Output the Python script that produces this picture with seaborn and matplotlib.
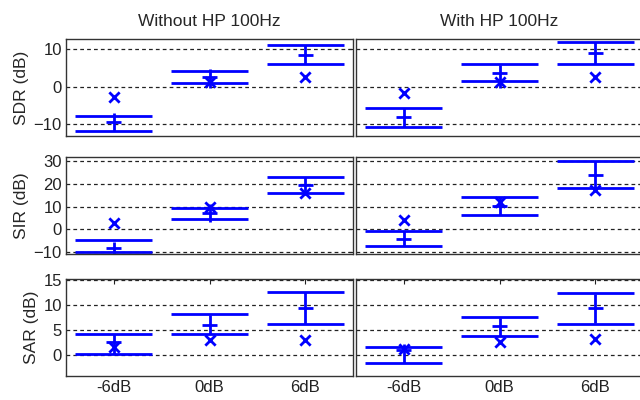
import numpy as np
import pandas as pd
import seaborn as sns
import matplotlib
matplotlib.use('Agg')
import matplotlib.pyplot as plt

# categories and panel titles
snr_levels = ['-6dB', '0dB', '6dB']
conditions = ['Without HP 100Hz', 'With HP 100Hz']
metrics = ['SDR', 'SIR', 'SAR']

# wide horizontal lines (lower / upper) per metric and condition
wide_lo = {
    ('SDR', 0): [-12.0, 0.9, 6.1], ('SDR', 1): [-11.0, 1.6, 6.1],
    ('SIR', 0): [-9.9, 4.6, 16.1], ('SIR', 1): [-7.4, 6.4, 17.9],
    ('SAR', 0): [0.2, 4.1, 6.2], ('SAR', 1): [-1.6, 3.7, 6.2],
}
wide_hi = {
    ('SDR', 0): [-8.0, 4.3, 11.3], ('SDR', 1): [-5.8, 6.1, 12.1],
    ('SIR', 0): [-4.7, 9.4, 22.8], ('SIR', 1): [-0.6, 14.2, 29.9],
    ('SAR', 0): [4.1, 8.2, 12.6], ('SAR', 1): [1.5, 7.5, 12.4],
}
# vertical bar extents
bar_lo = {
    ('SDR', 0): [-12.0, -0.3, 6.1], ('SDR', 1): [-11.0, -0.3, 6.1],
    ('SIR', 0): [-11.0, 3.3, 16.3], ('SIR', 1): [-7.4, 6.4, 17.9],
    ('SAR', 0): [0.2, 4.1, 6.2], ('SAR', 1): [-1.6, 3.7, 6.4],
}
bar_hi = {
    ('SDR', 0): [-7.0, 4.8, 11.3], ('SDR', 1): [-5.8, 5.7, 12.1],
    ('SIR', 0): [-5.5, 11.2, 22.7], ('SIR', 1): [-0.6, 14.2, 29.9],
    ('SAR', 0): [4.1, 8.0, 12.6], ('SAR', 1): [2.2, 7.3, 12.2],
}
# short mean tick
mean_val = {
    ('SDR', 0): [-9.6, 2.7, 8.6], ('SDR', 1): [-8.3, 3.6, 9.1],
    ('SIR', 0): [-8.0, 7.2, 19.4], ('SIR', 1): [-4.0, 10.4, 23.9],
    ('SAR', 0): [2.5, 6.0, 9.4], ('SAR', 1): [0.9, 5.7, 9.4],
}
# cross markers
cross_val = {
    ('SDR', 0): [-2.75, 1.1, 2.5], ('SDR', 1): [-1.8, 1.1, 2.5],
    ('SIR', 0): [2.7, 9.7, 16.1], ('SIR', 1): [4.1, 11.9, 17.2],
    ('SAR', 0): [1.5, 2.9, 3.0], ('SAR', 1): [1.2, 2.5, 3.1],
}

y_limits = {'SDR': (-13.3, 12.8), 'SIR': (-10.7, 31.6), 'SAR': (-4.3, 15.2)}
y_ticks = {'SDR': [-10, 0, 10], 'SIR': [-10, 0, 10, 20, 30], 'SAR': [0, 5, 10, 15]}

sns.set_style('white')
plt.rcParams['font.family'] = ['Liberation Sans', 'DejaVu Sans']
plt.rcParams['font.size'] = 12

blue = '#0000ff'
fig = plt.figure(figsize=(6.4, 4), dpi=100)

col_left = [0.103, 0.556]
col_width = 0.449
row_bottom = [0.66, 0.365, 0.06]
row_height = 0.2425

xpos = np.arange(len(snr_levels))
for r, metric in enumerate(metrics):
    for c in range(2):
        ax = fig.add_axes([col_left[c], row_bottom[r], col_width, row_height])
        key = (metric, c)
        ax.hlines(wide_lo[key], xpos - 0.4, xpos + 0.4, color=blue, lw=2)
        ax.hlines(wide_hi[key], xpos - 0.4, xpos + 0.4, color=blue, lw=2)
        ax.vlines(xpos, bar_lo[key], bar_hi[key], color=blue, lw=2)
        ax.hlines(mean_val[key], xpos - 0.08, xpos + 0.08, color=blue, lw=2)
        df = pd.DataFrame({'x': xpos, 'y': cross_val[key]})
        sns.scatterplot(data=df, x='x', y='y', marker='x', color=blue,
                        s=55, linewidth=2, ax=ax, zorder=3)
        ax.set_xlim(-0.5, 2.5)
        ax.set_ylim(*y_limits[metric])
        ax.set_yticks(y_ticks[metric])
        ax.set_xlabel('')
        ax.set_ylabel('')
        ax.set_axisbelow(True)
        for v in y_ticks[metric]:
            ax.axhline(v, color='#222222', lw=0.9, dashes=(3, 2.5), zorder=0)
        ax.tick_params(direction='in', length=3.5, top=True, right=True,
                       labelsize=12, colors='#222222', width=0.8, pad=3)
        for sp in ax.spines.values():
            sp.set_color('#333333')
            sp.set_linewidth(1.0)
        if r == 2:
            ax.set_xticks(xpos)
            ax.set_xticklabels(snr_levels)
        else:
            ax.set_xticks([])
        if c == 1:
            ax.set_yticklabels([])
        else:
            ax.set_ylabel(metric + ' (dB)', fontsize=12.5, labelpad=3)
        if r == 0:
            ax.set_title(conditions[c], fontsize=12.5, pad=9)

fig.savefig('out.png', dpi=100)
